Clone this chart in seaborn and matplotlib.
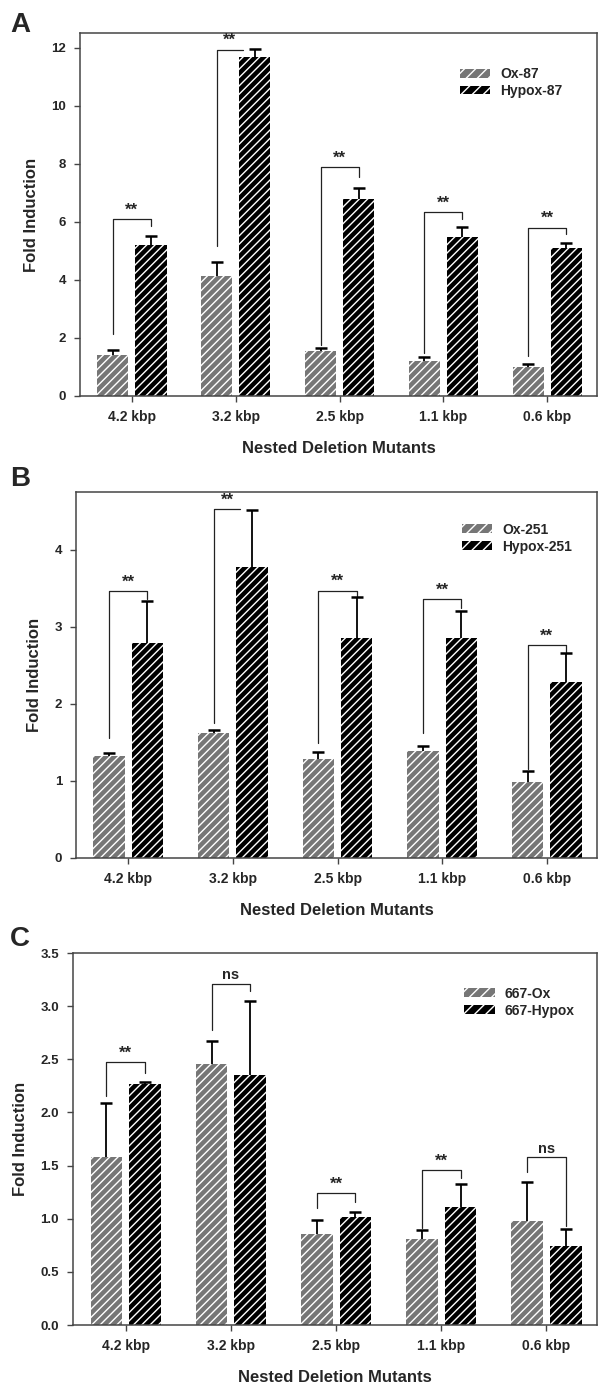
import numpy as np
import pandas as pd
import seaborn as sns
import matplotlib
matplotlib.use('Agg')
import matplotlib.pyplot as plt
from matplotlib.patches import Patch

# ---- data ----
mutants = ['4.2 kbp', '3.2 kbp', '2.5 kbp', '1.1 kbp', '0.6 kbp']

a_labels = ['Ox-87', 'Hypox-87']
a_ox_mean = [1.41, 4.13, 1.55, 1.21, 0.99]
a_ox_err = [0.16, 0.48, 0.10, 0.14, 0.12]
a_hyp_mean = [5.20, 11.68, 6.80, 5.47, 5.10]
a_hyp_err = [0.30, 0.27, 0.37, 0.35, 0.18]
a_brk_left = [2.14, 5.16, 1.76, 1.48, 1.38]
a_brk_top = [6.08, 11.93, 7.87, 6.34, 5.80]
a_brk_right = [5.85, None, 7.53, 6.09, 5.57]
a_sig = ['**', '**', '**', '**', '**']

b_labels = ['Ox-251', 'Hypox-251']
b_ox_mean = [1.33, 1.62, 1.29, 1.39, 0.99]
b_ox_err = [0.03, 0.04, 0.085, 0.07, 0.14]
b_hyp_mean = [2.79, 3.78, 2.85, 2.86, 2.28]
b_hyp_err = [0.54, 0.73, 0.54, 0.34, 0.38]
b_brk_left = [1.56, 1.75, 1.49, 1.62, 1.15]
b_brk_top = [3.46, 4.53, 3.47, 3.36, 2.76]
b_brk_right = [3.36, None, 3.39, 3.24, 2.67]
b_sig = ['**', '**', '**', '**', '**']

c_labels = ['667-Ox', '667-Hypox']
c_ox_mean = [1.58, 2.46, 0.86, 0.81, 0.98]
c_ox_err = [0.51, 0.21, 0.13, 0.08, 0.37]
c_hyp_mean = [2.27, 2.35, 1.02, 1.11, 0.74]
c_hyp_err = [0.02, 0.70, 0.04, 0.22, 0.16]
c_brk_left = [2.15, 2.78, 1.10, 0.91, 1.44]
c_brk_top = [2.47, 3.21, 1.24, 1.46, 1.58]
c_brk_right = [2.37, 3.14, 1.16, 1.38, 0.93]
c_sig = ['**', 'ns', '**', '**', 'ns']

OX_COLOR = '#767676'
HYP_COLOR = '#000000'
SPINE = '#454545'

sns.set_style('ticks')
plt.rcParams['font.family'] = ['Liberation Sans', 'DejaVu Sans']
plt.rcParams['font.weight'] = 'bold'
plt.rcParams['hatch.linewidth'] = 1.0


def draw_panel(ax, labels, ox_mean, ox_err, hyp_mean, hyp_err,
               brk_left, brk_top, brk_right, sig, ymax, yticks, yfmt, leg_xy):
    df = pd.DataFrame({
        'mutant': mutants * 2,
        'group': [labels[0]] * 5 + [labels[1]] * 5,
        'fold': list(ox_mean) + list(hyp_mean),
    })
    sns.barplot(data=df, x='mutant', y='fold', hue='group', order=mutants,
                hue_order=labels, palette=[OX_COLOR, HYP_COLOR], saturation=1,
                width=0.733, gap=0.18, errorbar=None, legend=False, ax=ax)
    bars = sorted(ax.patches, key=lambda p: p.get_x())
    for p in bars:
        p.set_hatch('////')
        p.set_edgecolor('white')
        p.set_linewidth(0)
    x_ox = [bars[2 * i].get_x() + bars[2 * i].get_width() / 2 for i in range(5)]
    x_hyp = [bars[2 * i + 1].get_x() + bars[2 * i + 1].get_width() / 2 for i in range(5)]

    # upper-only error bars
    for xs, m, e in [(x_ox, ox_mean, ox_err), (x_hyp, hyp_mean, hyp_err)]:
        eb = ax.errorbar(xs, m, yerr=[np.zeros(5), e], fmt='none', ecolor='black',
                         elinewidth=1.3, capsize=4.5, capthick=1.8, zorder=3)
        eb[1][0].remove()

    # significance brackets
    for i in range(5):
        x0 = x_ox[i]
        if brk_right[i] is None:
            x1 = i + 0.07
            ax.plot([x0, x0, x1], [brk_left[i], brk_top[i], brk_top[i]],
                    color='#222222', lw=0.9)
        else:
            x1 = x_hyp[i]
            ax.plot([x0, x0, x1, x1], [brk_left[i], brk_top[i], brk_top[i], brk_right[i]],
                    color='#222222', lw=0.9)
        fs = 12 if sig[i] == '**' else 10.5
        ax.annotate(sig[i], ((x0 + x1) / 2, brk_top[i]), xytext=(0, 1),
                    textcoords='offset points', ha='center', va='bottom',
                    fontsize=fs, fontweight='bold')

    ax.set_xlim(-0.5, 4.48)
    ax.set_ylim(0, ymax)
    ax.set_yticks(yticks)
    ax.set_yticklabels([yfmt.format(v) for v in yticks])
    ax.set_xlabel('Nested Deletion Mutants', fontsize=12, fontweight='bold', labelpad=12)
    ax.set_ylabel('Fold Induction', fontsize=12, fontweight='bold', labelpad=9)
    for s in ax.spines.values():
        s.set_visible(True)
        s.set_color(SPINE)
        s.set_linewidth(1.1)
    ax.tick_params(axis='both', direction='out', length=4, width=1, color=SPINE)
    ax.tick_params(axis='x', labelsize=10, pad=6)
    ax.tick_params(axis='y', labelsize=9.5, pad=6)
    for t in ax.get_xticklabels() + ax.get_yticklabels():
        t.set_fontweight('bold')

    handles = [Patch(facecolor=OX_COLOR, edgecolor='white', hatch='///', lw=0),
               Patch(facecolor=HYP_COLOR, edgecolor='white', hatch='///', lw=0)]
    ax.legend(handles, labels, loc='upper left', bbox_to_anchor=leg_xy,
              frameon=False, borderpad=0, handlelength=2.2, handleheight=0.6,
              handletextpad=0.7, labelspacing=0.2,
              prop={'weight': 'bold', 'size': 10})


fig = plt.figure(figsize=(6, 13.86), dpi=100)
H = 1386.0
W = 600.0

ax_a = fig.add_axes([80 / W, 1 - 396 / H, (597 - 80) / W, (396 - 33) / H])
ax_b = fig.add_axes([76 / W, 1 - 858 / H, (597 - 76) / W, (858 - 492) / H])
ax_c = fig.add_axes([73 / W, 1 - 1325 / H, (597 - 73) / W, (1325 - 953) / H])

draw_panel(ax_a, a_labels, a_ox_mean, a_ox_err, a_hyp_mean, a_hyp_err,
           a_brk_left, a_brk_top, a_brk_right, a_sig,
           12.5, [0, 2, 4, 6, 8, 10, 12], '{:d}', (0.721, 0.925))
draw_panel(ax_b, b_labels, b_ox_mean, b_ox_err, b_hyp_mean, b_hyp_err,
           b_brk_left, b_brk_top, b_brk_right, b_sig,
           4.75, [0, 1, 2, 3, 4], '{:d}', (0.727, 0.935))
draw_panel(ax_c, c_labels, c_ox_mean, c_ox_err, c_hyp_mean, c_hyp_err,
           c_brk_left, c_brk_top, c_brk_right, c_sig,
           3.5, [0.0, 0.5, 1.0, 1.5, 2.0, 2.5, 3.0, 3.5], '{:.1f}', (0.733, 0.928))

fig.text(10 / W, 1 - 32 / H, 'A', fontsize=20, fontweight='bold', va='baseline')
fig.text(10 / W, 1 - 486 / H, 'B', fontsize=20, fontweight='bold', va='baseline')
fig.text(10 / W, 1 - 946 / H, 'C', fontsize=20, fontweight='bold', va='baseline')

fig.savefig('out.png', dpi=100)
